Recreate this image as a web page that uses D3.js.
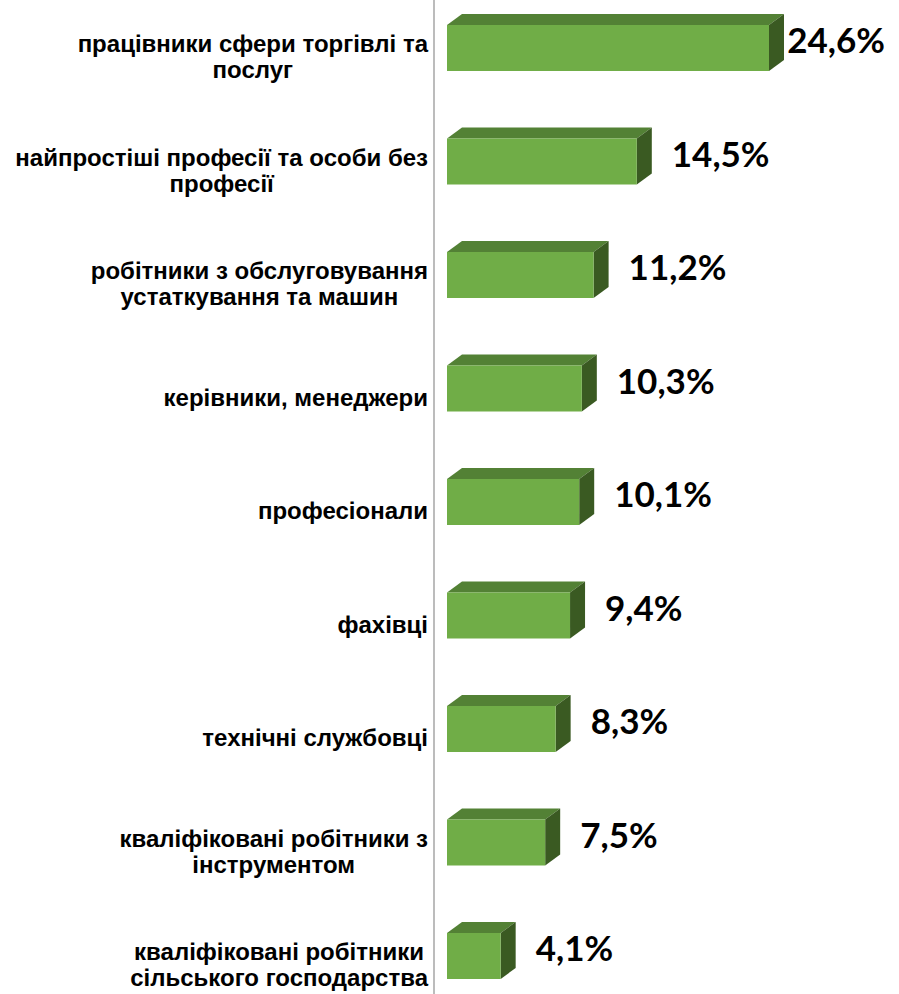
<!DOCTYPE html>
<html><head><meta charset="utf-8">
<script src="https://cdn.jsdelivr.net/npm/d3@7"></script>
<style>body{margin:0;background:#fff}svg{display:block}</style>
</head><body>
<script>
const categories = [
  "працівники сфери торгівлі та|послуг",
  "найпростіші професії та особи без|професії",
  "робітники з обслуговування|устаткування та машин",
  "керівники, менеджери",
  "професіонали",
  "фахівці",
  "технічні службовці",
  "кваліфіковані робітники з|інструментом",
  "кваліфіковані робітники|сільського господарства"
];
const values = [24.6, 14.5, 11.2, 10.3, 10.1, 9.4, 8.3, 7.5, 4.1];
const valueLabels = ["24,6%", "14,5%", "11,2%", "10,3%", "10,1%", "9,4%", "8,3%", "7,5%", "4,1%"];

const W = 899, H = 994;
const svg = d3.select("body").append("svg").attr("width", W).attr("height", H);

const x0 = 447;
const x = d3.scaleLinear().domain([0, 24.6]).range([x0, 769]);
const y = d3.scalePoint().domain(categories).range([48, 956]);
const barH = 46, dx = 15, dy = 11;

// axis line
svg.append("line").attr("x1", 434).attr("x2", 434).attr("y1", 0).attr("y2", H)
  .attr("stroke", "#A6A6A6").attr("stroke-width", 1.5);

const g = svg.selectAll("g.bar").data(categories).join("g").attr("class", "bar");

g.each(function(c, i) {
  const sel = d3.select(this);
  const top = y(c) - barH / 2, bot = y(c) + barH / 2;
  const xr = x(values[i]);
  // top face
  sel.append("path").attr("d", `M${x0},${top}L${x0+dx},${top-dy}L${xr+dx},${top-dy}L${xr},${top}Z`)
    .attr("fill", "#538135");
  // side face
  sel.append("path").attr("d", `M${xr},${top}L${xr+dx},${top-dy}L${xr+dx},${bot-dy}L${xr},${bot}Z`)
    .attr("fill", "#3A5A22");
  // front face
  sel.append("rect").attr("x", x0).attr("y", top).attr("width", xr - x0).attr("height", barH)
    .attr("fill", "#70AD47");

  // value label
  const t = sel.append("text").text(valueLabels[i])
    .attr("font-family", "Lato, 'Open Sans', sans-serif").attr("font-weight", 700)
    .attr("font-size", 35).attr("fill", "#000")
    .attr("x", xr + 35).attr("y", y(c) + 5);
  const tw = t.node().getComputedTextLength();
  if (xr + 35 + tw > W - 14) t.attr("x", W - 14 - tw);

  // category label
  const lines = c.split("|");
  const lab = sel.append("text").attr("font-family", "'Liberation Sans', Arial, sans-serif")
    .attr("font-weight", 700).attr("font-size", 24).attr("fill", "#000")
    .attr("text-anchor", "middle");
  const n = lines.length;
  lines.forEach((l, j) => {
    lab.append("tspan").text(l).attr("x", 0)
      .attr("y", y(c) + 17 + (j - (n - 1) / 2) * 26);
  });
  let maxW = 0;
  lab.selectAll("tspan").each(function() { maxW = Math.max(maxW, this.getComputedTextLength()); });
  lab.selectAll("tspan").attr("x", 428 - maxW / 2);
});
</script>
</body></html>
